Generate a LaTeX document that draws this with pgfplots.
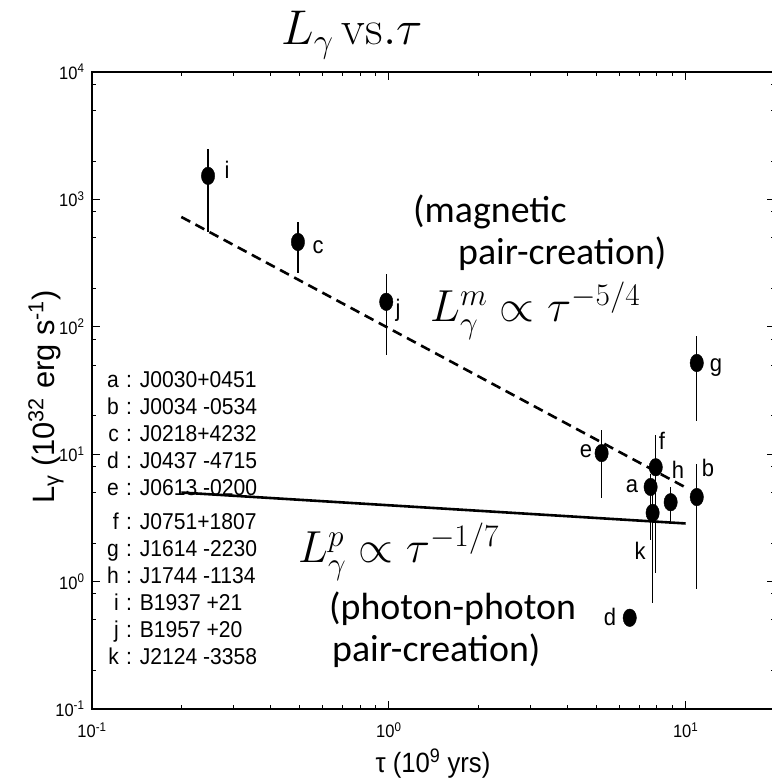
\RequirePackage{fix-cm}
\documentclass[border=0pt]{standalone}
\usepackage[no-math]{fontspec}
\setmainfont{Liberation Sans}
\newfontfamily\narrowsans[FakeStretch=0.92]{Liberation Sans}
\newfontfamily\calibri{Carlito}
\usepackage{pgfplots}
\pgfplotsset{compat=1.18}

% position helper: (x from left, y from top) in bp
\newcommand{\at}[2]{(#1,{778-#2})}

\begin{document}
\begin{tikzpicture}[x=1bp,y=1bp]
\begin{axis}[
  at={(92bp,69bp)}, anchor=south west,
  scale only axis, width=683bp, height=637bp,
  xmode=log, ymode=log,
  xmin=0.1, xmax=20, ymin=0.1, ymax=10000,
  axis line style={line width=1.3bp},
  tick align=inside,
  tick style={black, line width=1bp},
  major tick length=8bp, minor tick length=4bp,
  xtick={0.1,1,10},
  xticklabels={10\textsuperscript{-1},10\textsuperscript{0},10\textsuperscript{1}},
  minor xtick={0.2,0.3,0.4,0.5,0.6,0.7,0.8,0.9,2,3,4,5,6,7,8,9},
  ytick={0.1,1,10,100,1000,10000},
  yticklabels={10\textsuperscript{-1},10\textsuperscript{0},10\textsuperscript{1},10\textsuperscript{2},10\textsuperscript{3},10\textsuperscript{4}},
  minor ytick={0.2,0.5,0.8,2,5,8,20,50,80,200,500,800,2000,5000,8000},
  tick label style={font=\narrowsans\fontsize{18}{18}\selectfont},
  xticklabel style={yshift=-10bp},
  yticklabel style={xshift=-4bp},
  clip=false,
]
% pulsars with error bars
\addplot[black, only marks, mark=*, mark size=8.8bp,
  mark options={xscale=0.76, fill=black},
  error bars/.cd, y dir=both, y explicit, error mark=none,
  error bar style={line width=1.2bp, black}]
coordinates {
  (0.246,1530) += (0,960)  -= (0,975)
  (0.494,463)  += (0,202)  -= (0,199)
  (0.98,157)   += (0,102)  -= (0,97)
  (5.21,10.2)  += (0,5.3)  -= (0,5.67)
  (7.93,7.9)   += (0,6.2)  -= (0,6.73)
  (7.62,5.53)  += (0,1.5)  -= (0,3.4)
  (7.74,3.46)  += (0,2.0)  -= (0,2.78)
  (8.9,4.2)    += (0,1.33) -= (0,1.26)
  (10.9,4.61)  += (0,3.77) -= (0,3.74)
  (10.9,52)    += (0,32.7) -= (0,33.8)
};
% J0437-4715, no error bar
\addplot[black, only marks, mark=*, mark size=8.8bp,
  mark options={xscale=0.76, fill=black}]
coordinates {(6.48,0.52)};
% magnetic pair-creation model
\addplot[black, line width=2.6bp, dash pattern=on 10bp off 6bp]
  coordinates {(0.2,728) (10,5.48)};
% photon-photon pair-creation model
\addplot[black, line width=2.6bp]
  coordinates {(0.2,5.0) (10,2.86)};
\end{axis}

% title
\node[anchor=base, font=\fontsize{49}{49}\selectfont] at \at{352}{45} {$L_\gamma\, \mathrm{vs.}\tau$};

% axis labels
\node[rotate=90, font=\fontsize{31}{31}\selectfont] at \at{46}{397}
  {L\textsubscript{γ} (10\textsuperscript{32} erg s\textsuperscript{-1})};
\node[font=\narrowsans\fontsize{28}{28}\selectfont] at \at{433}{764}
  {τ (10\textsuperscript{9} yrs)};

% model annotations
\begin{scope}[font=\calibri\fontsize{38}{38}\selectfont]
  \node[anchor=base west, inner sep=0pt] at \at{413}{223} {(magnetic};
  \node[anchor=base west, inner sep=0pt] at \at{458}{265} {pair-creation)};
  \node[anchor=base west, inner sep=0pt] at \at{329}{620} {(photon-photon};
  \node[anchor=base west, inner sep=0pt] at \at{332}{662} {pair-creation)};
\end{scope}
\begin{scope}[font=\fontsize{45}{45}\selectfont]
  \node[anchor=base west, inner sep=0pt] at \at{430}{322} {$L_\gamma^m \propto \tau^{-5/4}$};
  \node[anchor=base west, inner sep=0pt] at \at{298}{563} {$L_\gamma^p \propto \tau^{-1/7}$};
\end{scope}

% point labels
\begin{scope}[font=\narrowsans\fontsize{24}{24}\selectfont, inner sep=0pt]
  \node at \at{227}{170} {i};
  \node at \at{318}{247} {c};
  \node at \at{398}{310} {j};
  \node at \at{586}{451} {e};
  \node at \at{662}{441} {f};
  \node at \at{632}{486} {a};
  \node at \at{678}{470} {h};
  \node at \at{708}{468} {b};
  \node at \at{716}{368} {g};
  \node at \at{640}{551} {k};
  \node at \at{610}{617} {d};
\end{scope}

% source list
\begin{scope}[font=\narrowsans\fontsize{23}{23}\selectfont, inner sep=0pt]
  \foreach \l/\n/\y in {a/J0030+0451/388, b/J0034 -0534/415, c/J0218+4232/442,
      d/J0437 -4715/469, e/J0613 -0200/496, f/J0751+1807/530, g/J1614 -2230/557,
      h/J1744 -1134/584, i/B1937 +21/611, j/B1957 +20/638, k/J2124 -3358/665}{
    \node[anchor=base east] at \at{119}{\y} {\l};
    \node[anchor=base west] at \at{126}{\y} {: \n};
  }
\end{scope}

\pgfresetboundingbox
\path[use as bounding box] (0,0) rectangle (772,778);
\end{tikzpicture}
\end{document}
